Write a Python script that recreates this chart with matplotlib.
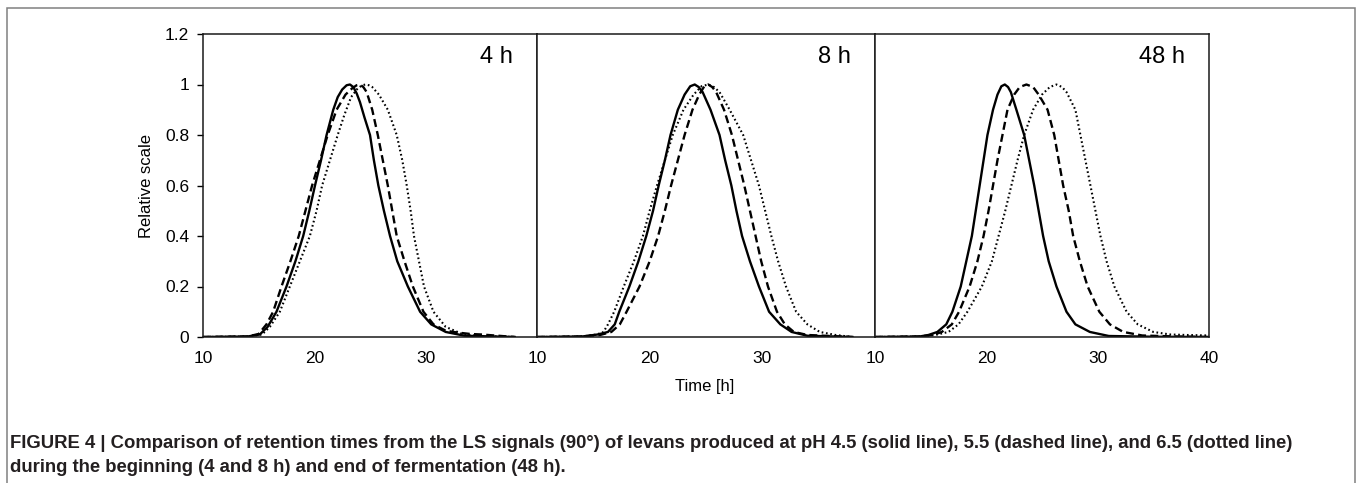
import matplotlib.pyplot as plt
from matplotlib.patches import Rectangle

plt.rcParams['font.family'] = ['Liberation Sans', 'DejaVu Sans']

panel_labels = ['4 h', '8 h', '48 h']

# pH 4.5 (solid), 5.5 (dashed), 6.5 (dotted)
t_4h_solid = [10, 14, 15.1, 15.8, 16.6, 17.5, 18.3, 19.0, 19.55, 20.06, 20.6, 21.1, 21.7, 22.1, 22.5, 22.9, 23.2,
              23.5, 23.8, 24.1, 24.5, 25.0, 25.35, 25.75, 26.25, 26.8, 27.45, 28.4, 29.5, 30.5, 31.8, 33.5, 38]
v_4h_solid = [0, 0.002, 0.01, 0.04, 0.1, 0.2, 0.3, 0.4, 0.5, 0.6, 0.7, 0.8, 0.9, 0.95, 0.98, 0.997, 1.0,
              0.99, 0.965, 0.93, 0.87, 0.8, 0.7, 0.6, 0.5, 0.4, 0.3, 0.2, 0.1, 0.05, 0.02, 0.005, 0]
t_4h_dash = [10, 14, 15.0, 15.7, 16.3, 17.05, 17.85, 18.6, 19.2, 19.8, 20.5, 21.2, 22.0, 22.8, 23.4, 23.8, 24.1,
             24.4, 24.7, 25.2, 25.7, 26.15, 26.6, 27.0, 27.4, 28.1, 28.85, 29.8, 30.7, 31.8, 32.8, 34.0, 35.0,
             36.5, 38]
v_4h_dash = [0, 0.002, 0.012, 0.05, 0.1, 0.2, 0.3, 0.4, 0.5, 0.6, 0.7, 0.8, 0.9, 0.96, 0.985, 0.997, 1.0,
             0.99, 0.97, 0.9, 0.8, 0.7, 0.6, 0.5, 0.4, 0.3, 0.2, 0.1, 0.05, 0.025, 0.018, 0.012, 0.01,
             0.005, 0]
t_4h_dot = [10, 14, 15.3, 16.0, 16.9, 17.8, 18.7, 19.6, 20.2, 20.7, 21.4, 22.1, 22.7, 23.3, 23.9, 24.3, 24.6,
            24.9, 25.2, 25.8, 26.6, 27.4, 27.9, 28.3, 28.65, 28.95, 29.4, 29.85, 30.7, 31.8, 33.4, 35, 38]
v_4h_dot = [0, 0.002, 0.01, 0.04, 0.1, 0.2, 0.3, 0.4, 0.5, 0.6, 0.7, 0.8, 0.88, 0.95, 0.985, 0.997, 1.0,
            0.997, 0.99, 0.96, 0.9, 0.8, 0.7, 0.6, 0.5, 0.4, 0.3, 0.2, 0.1, 0.04, 0.01, 0.004, 0]

t_8h_solid = [10, 14, 15.4, 16.3, 16.9, 17.3, 18.2, 19.0, 19.7, 20.3, 20.8, 21.35, 21.85, 22.5, 23.1, 23.6, 24.0,
              24.35, 24.7, 25.4, 26.2, 26.7, 27.25, 27.7, 28.2, 28.9, 29.7, 30.6, 31.6, 32.6, 34, 38]
v_8h_solid = [0, 0.002, 0.01, 0.02, 0.05, 0.1, 0.2, 0.3, 0.4, 0.5, 0.6, 0.7, 0.8, 0.9, 0.96, 0.993, 1.0,
              0.99, 0.97, 0.9, 0.8, 0.7, 0.6, 0.5, 0.4, 0.3, 0.2, 0.1, 0.05, 0.02, 0.005, 0]
t_8h_dash = [10, 14, 15.6, 16.6, 17.35, 17.95, 19.1, 20.0, 20.75, 21.35, 21.9, 22.5, 23.1, 23.8, 24.4, 24.85, 25.2,
             25.55, 25.9, 26.6, 27.3, 27.85, 28.4, 28.9, 29.4, 29.9, 30.5, 31.3, 32.0, 32.8, 34, 36, 38]
v_8h_dash = [0, 0.002, 0.008, 0.02, 0.05, 0.1, 0.2, 0.3, 0.4, 0.5, 0.6, 0.7, 0.8, 0.9, 0.96, 0.993, 1.0,
             0.99, 0.97, 0.9, 0.8, 0.7, 0.6, 0.5, 0.4, 0.3, 0.2, 0.1, 0.05, 0.02, 0.008, 0.004, 0]
t_8h_dot = [10, 14, 15.3, 15.9, 16.3, 16.85, 17.7, 18.6, 19.4, 20.0, 20.65, 21.35, 22.05, 23.0, 23.9, 24.6, 25.2,
            25.7, 26.2, 27.1, 28.3, 29.0, 29.7, 30.25, 30.8, 31.4, 32.1, 33.0, 34.0, 35.1, 36.5, 38]
v_8h_dot = [0, 0.002, 0.01, 0.02, 0.05, 0.1, 0.2, 0.3, 0.4, 0.5, 0.6, 0.7, 0.8, 0.9, 0.96, 0.993, 1.0,
            0.99, 0.97, 0.9, 0.8, 0.7, 0.6, 0.5, 0.4, 0.3, 0.2, 0.1, 0.05, 0.02, 0.008, 0]

t_48h_solid = [10, 14, 14.8, 15.6, 16.4, 16.95, 17.7, 18.2, 18.7, 19.05, 19.4, 19.75, 20.1, 20.6, 21.0, 21.35,
               21.66, 21.95, 22.2, 22.7, 23.4, 23.85, 24.3, 24.7, 25.1, 25.6, 26.3, 27.2, 28.0, 29.3, 31, 35, 40]
v_48h_solid = [0, 0.002, 0.008, 0.02, 0.05, 0.1, 0.2, 0.3, 0.4, 0.5, 0.6, 0.7, 0.8, 0.9, 0.96, 0.993,
               1.0, 0.99, 0.97, 0.9, 0.8, 0.7, 0.6, 0.5, 0.4, 0.3, 0.2, 0.1, 0.05, 0.02, 0.004, 0.001, 0]
t_48h_dash = [10, 14, 15.2, 16.0, 16.9, 17.55, 18.5, 19.2, 19.75, 20.2, 20.6, 21.0, 21.45, 21.9, 22.5, 23.0,
              23.6, 24.2, 24.7, 25.5, 26.1, 26.5, 26.9, 27.4, 27.8, 28.4, 29.1, 30.15, 31.1, 32.3, 34, 37, 40]
v_48h_dash = [0, 0.002, 0.008, 0.02, 0.05, 0.1, 0.2, 0.3, 0.4, 0.5, 0.6, 0.7, 0.8, 0.9, 0.96, 0.99,
              1.0, 0.99, 0.96, 0.9, 0.8, 0.7, 0.6, 0.5, 0.4, 0.3, 0.2, 0.1, 0.05, 0.02, 0.006, 0.002, 0]
t_48h_dot = [10, 14, 15.4, 16.6, 17.5, 18.3, 19.6, 20.5, 21.1, 21.7, 22.25, 22.8, 23.4, 24.2, 25.0, 25.7,
             26.3, 26.8, 27.2, 28.0, 28.45, 28.9, 29.35, 29.8, 30.25, 30.8, 31.5, 32.6, 33.6, 35.0, 36.5, 38, 40]
v_48h_dot = [0, 0.002, 0.008, 0.02, 0.05, 0.1, 0.2, 0.3, 0.4, 0.5, 0.6, 0.7, 0.8, 0.9, 0.96, 0.99,
             1.0, 0.99, 0.97, 0.9, 0.8, 0.7, 0.6, 0.5, 0.4, 0.3, 0.2, 0.1, 0.05, 0.02, 0.01, 0.008, 0.006]

panels = [
    [(t_4h_solid, v_4h_solid), (t_4h_dash, v_4h_dash), (t_4h_dot, v_4h_dot)],
    [(t_8h_solid, v_8h_solid), (t_8h_dash, v_8h_dash), (t_8h_dot, v_8h_dot)],
    [(t_48h_solid, v_48h_solid), (t_48h_dash, v_48h_dash), (t_48h_dot, v_48h_dot)],
]
styles = ['-', (0, (3.4, 1.8)), (0, (0.8, 1.3))]
widths = [1.7, 1.7, 1.5]

caption_1 = ('FIGURE 4 | Comparison of retention times from the LS signals (90\u00b0) of levans produced '
             'at pH 4.5 (solid line), 5.5 (dashed line), and 6.5 (dotted line)')
caption_2 = 'during the beginning (4 and 8 h) and end of fermentation (48 h).'

W, H = 1360, 483
fig = plt.figure(figsize=(W / 100, H / 100), dpi=100)

# panel edges in pixels
edges = [203, 537, 875, 1209]
top_px, bot_px = 34, 337

axes = []
for i in range(3):
    ax = fig.add_axes([edges[i] / W, 1 - bot_px / H, (edges[i + 1] - edges[i]) / W, (bot_px - top_px) / H])
    for (t, v), ls, lw in zip(panels[i], styles, widths):
        ax.plot(t, v, color='black', linestyle=ls, linewidth=lw)
    ax.set_xlim(10, 40)
    ax.set_ylim(0, 1.2)
    if i < 2:
        ax.set_xticks([10, 20, 30])
    else:
        ax.set_xticks([10, 20, 30, 40])
    ax.set_yticks([0, 0.2, 0.4, 0.6, 0.8, 1, 1.2])
    ax.set_yticklabels(['0', '0.2', '0.4', '0.6', '0.8', '1', '1.2'])
    ax.tick_params(axis='x', length=0, pad=10, labelsize=12.5)
    ax.tick_params(axis='y', length=4, width=1, direction='out', pad=6, labelsize=12.5)
    if i > 0:
        ax.tick_params(axis='y', left=False, labelleft=False)
    for s in ax.spines.values():
        s.set_color('#1a1a1a')
        s.set_linewidth(1.1)
    ax.text(0.928, 0.925, panel_labels[i], transform=ax.transAxes, ha='right', va='center', fontsize=17)
    axes.append(ax)

axes[0].set_ylabel('Relative scale', fontsize=12, labelpad=8)
fig.text(705 / W, 1 - 386 / H, 'Time [h]', ha='center', va='center', fontsize=12)

fig.text(10 / W, 1 - 443 / H, caption_1, ha='left', va='center', fontsize=13.3, fontweight='bold', color='#231f20')
fig.text(10 / W, 1 - 468 / H, caption_2, ha='left', va='center', fontsize=13.3, fontweight='bold', color='#231f20')

# outer frame round the figure
fig.patches.append(Rectangle((7 / W, -0.2), (1355 - 7) / W, 1.2 - 8 / H, transform=fig.transFigure,
                             fill=False, edgecolor='#808080', linewidth=1.1))

fig.savefig('out.png', dpi=100)
